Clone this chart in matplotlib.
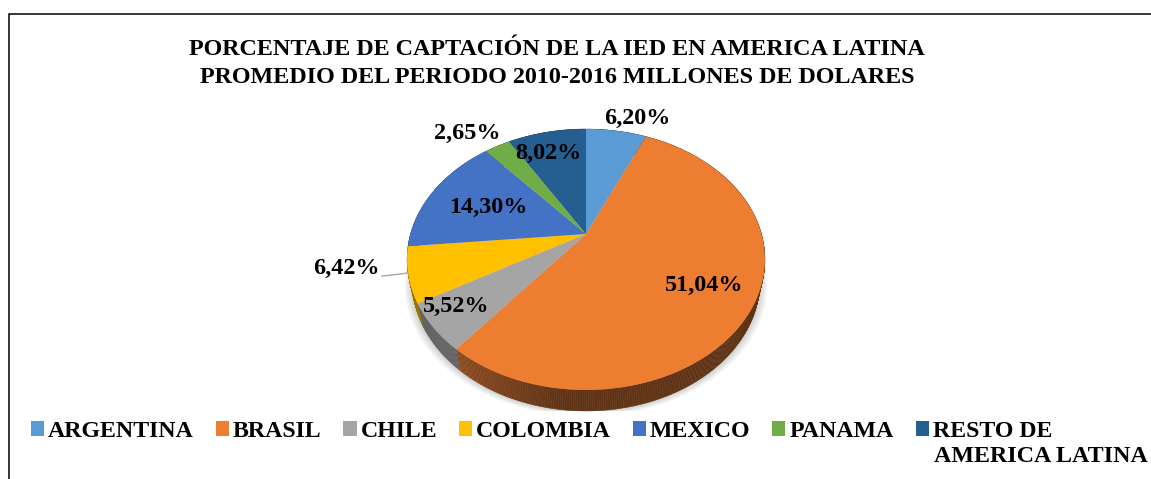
import numpy as np
import matplotlib
matplotlib.use('Agg')
import matplotlib.pyplot as plt
from matplotlib.collections import PolyCollection
from matplotlib.transforms import Transform

# Data
countries = ['ARGENTINA', 'BRASIL', 'CHILE', 'COLOMBIA', 'MEXICO', 'PANAMA', 'RESTO DE']
last_label_line2 = 'AMERICA LATINA'
shares = [6.20, 51.04, 5.52, 6.42, 14.30, 2.65, 8.02]
colors = ['#5B9BD5', '#ED7D31', '#A5A5A5', '#FFC000', '#4472C4', '#70AD47', '#255E91']
title = 'PORCENTAJE DE CAPTACIÓN DE LA IED EN AMERICA LATINA\nPROMEDIO DEL PERIODO 2010-2016 MILLONES DE DOLARES'

# Where each percentage label sits, in image pixels
label_pos = [(637, 118), (704, 285), (456, 306), (346, 268), (488, 207), (467, 133), (548, 153)]

plt.rcParams['font.family'] = ['Liberation Serif', 'DejaVu Serif']
plt.rcParams['font.weight'] = 'bold'

# Perspective of the tilted pie: unit circle -> image pixels
CX, CY = 586, 234
K = 0.1954
SX, SY = 175.5, 125.5
DEPTH = 21
BASE_SCALE = 0.972


class Tilt(Transform):
    input_dims = 2
    output_dims = 2
    is_affine = False

    def transform_non_affine(self, values):
        values = np.asarray(values, dtype=float)
        w = 1 + K * values[:, 1]
        return np.column_stack([CX + SX * values[:, 0] / w, CY - SY * values[:, 1] / w])


fig = plt.figure(figsize=(11.51, 4.79), dpi=100)
ax = fig.add_axes([0, 0, 1, 1])

wedges, _ = ax.pie(shares, colors=colors, startangle=90, counterclock=False)
ax.set_aspect('auto')
ax.set_xlim(0, 1151)
ax.set_ylim(479, 0)
ax.axis('off')

tilt = Tilt()
for w in wedges:
    w.set_transform(tilt + ax.transData)
    w.set_zorder(3)
    w.set_linewidth(0)


def rim(theta):
    t = np.deg2rad(theta)
    return tilt.transform_non_affine(np.column_stack([np.cos(t), np.sin(t)]))


def base(theta):
    top = rim(theta)
    return np.column_stack([CX + (top[:, 0] - CX) * BASE_SCALE, top[:, 1] + DEPTH])


# Soft shadow under the pie
angles = np.linspace(0, 360, 361)
for grow in [7, 5, 3, 1.5]:
    ring = base(angles)
    ring = np.column_stack([CX + (ring[:, 0] - CX) * (1 + grow / 175), ring[:, 1] + grow * 0.7])
    ring[:, 1] = np.minimum(ring[:, 1], 411)
    ax.fill(ring[:, 0], ring[:, 1], color='#808080', alpha=0.10, lw=0, zorder=1)

# Side wall of the pie, darker towards the right
for w, c in zip(wedges, colors):
    theta = np.linspace(w.theta1, w.theta2, max(int(w.theta2 - w.theta1) * 2, 2) + 1)
    top, low = rim(theta), base(theta)
    quads = [[top[i], top[i + 1], low[i + 1], low[i]] for i in range(len(theta) - 1)]
    shade = np.interp(top[:-1, 0], [450, 560], [0.60, 0.40])
    face = [tuple(np.array(matplotlib.colors.to_rgb(c)) * s) for s in shade]
    ax.add_collection(PolyCollection(quads, facecolors=face, edgecolors=face, linewidths=0.3, zorder=2))

# Percentage labels
for value, (x, y) in zip(shares, label_pos):
    ax.text(x, y, f'{value:.2f}%'.replace('.', ','), fontsize=17.4, ha='center', va='center', color='black', zorder=5)

# Leader line of the COLOMBIA label
ax.plot([382, 392, 408], [276, 275, 273], color='#A6A6A6', lw=1, zorder=4)

ax.text(557, 63.5, title, fontsize=17.4, ha='center', va='center', linespacing=1.45, color='black')

# Frame around the chart, open on the right and bottom
ax.plot([9, 9, 1151], [479, 14, 14], color='black', lw=1.1, zorder=6, solid_joinstyle='miter')

leg = ax.legend(wedges, countries, loc='upper left', bbox_to_anchor=(31 / 1151, 1 - 421 / 479), ncols=7,
                frameon=False, fontsize=17.2, handlelength=0.55, handleheight=0.55,
                handletextpad=0.17, columnspacing=0.91, borderpad=0, borderaxespad=0, labelspacing=0)
ax.text(934, 456, last_label_line2, fontsize=17.3, ha='left', va='center', color='black')

fig.savefig('out.png', dpi=100)
